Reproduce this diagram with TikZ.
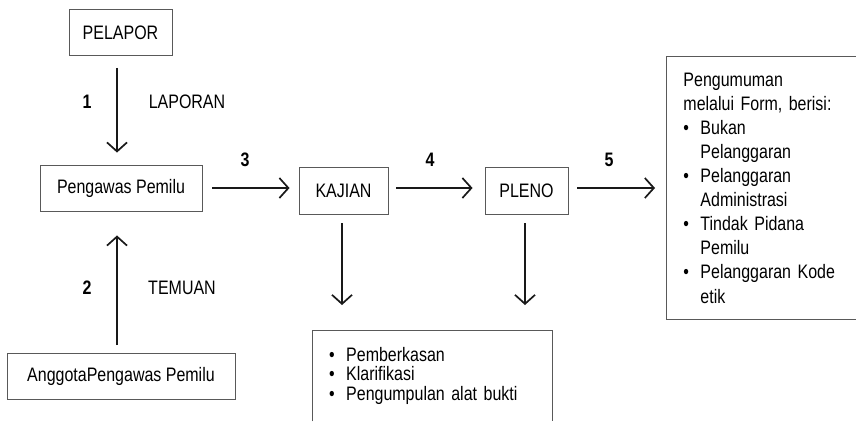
\documentclass[tikz,border=0pt]{standalone}
\usepackage{fontspec}
\setmainfont{Liberation Sans}[FakeStretch=0.82]
\usetikzlibrary{arrows.meta}
\newcommand{\bul}{\makebox[17pt][l]{\textbullet}}
\newcommand{\ind}{\hspace*{17pt}}
\begin{document}
\begin{tikzpicture}[x=1pt,y=-1pt,
  txt/.style={font=\fontsize{19.5}{22}\selectfont},
  box/.style={txt, draw=black!65, line width=0.9pt, inner sep=0pt, minimum height=46pt},
  flow/.style={draw=black!90, line width=1.7pt, -{Straight Barb[length=9pt,width=20pt,line width=1.7pt]}},
  num/.style={font=\fontsize{19.5}{22}\selectfont\bfseries},
  lbl/.style={txt}]
\useasboundingbox (0,0) rectangle (856,421);

% boxes
\node[box, minimum width=103pt] (pelapor) at (120.5,32.5) {PELAPOR};
\node[box, minimum width=162pt] (pengawas) at (121,188) {Pengawas Pemilu};
\node[box, minimum width=228pt] (anggota) at (121,376.5) {AnggotaPengawas Pemilu};
\node[box, minimum width=89pt, minimum height=47pt] (kajian) at (343.5,190.5) {KAJIAN};
\node[box, minimum width=83pt, minimum height=47pt] (pleno) at (526.5,190.5) {PLENO};

% announcement box (right side runs past the page edge)
\node[txt, draw=black!65, line width=0.9pt, anchor=north west,
      minimum width=204pt, minimum height=263pt, text width=170pt,
      inner xsep=17pt, inner ysep=0pt, align=left,
      font=\fontsize{19.5}{24.1}\selectfont] (hasil) at (666,56)
  {Pengumuman\\
   melalui Form, berisi:\\
   \bul Bukan\\
   \ind Pelanggaran\\
   \bul Pelanggaran\\
   \ind Administrasi\\
   \bul Tindak Pidana\\
   \ind Pemilu\\
   \bul Pelanggaran Kode\\
   \ind etik};

% investigation box (open at the bottom)
\node[txt, anchor=north west, minimum width=240pt, minimum height=91pt,
      text width=206pt, inner xsep=17pt, inner ysep=0pt, align=left,
      font=\fontsize{19.5}{19.6}\selectfont] (bukti) at (312,330)
  {\bul Pemberkasan\\
   \bul Klarifikasi\\
   \bul Pengumpulan alat bukti};
\draw[draw=black!65, line width=0.9pt] (bukti.south west) |- (bukti.north east) -- (bukti.south east);

% connectors
\draw[flow, shorten <=12pt, shorten >=12pt] ([xshift=-3.5pt]pelapor.south) -- ([xshift=-4pt]pengawas.north);
\draw[flow, shorten <=8pt, shorten >=24pt] ([xshift=-4pt]anggota.north) -- ([xshift=-4pt]pengawas.south);
\draw[flow, shorten <=10pt, shorten >=9pt] (pengawas.east) -- (kajian.west |- pengawas.east);
\draw[flow, shorten <=8pt, shorten >=12pt] (kajian.east |- pengawas.east) -- (pleno.west |- pengawas.east);
\draw[flow, shorten <=9pt, shorten >=11pt] (pleno.east |- pengawas.east) -- (hasil.west |- pengawas.east);
\draw[flow, shorten <=9pt, shorten >=25pt] ([xshift=-1.5pt]kajian.south) -- ([xshift=-1.5pt]kajian.south |- bukti.north);
\draw[flow, shorten <=9pt, shorten >=25pt] ([xshift=-1.5pt]pleno.south) -- ([xshift=-1.5pt]pleno.south |- bukti.north);

% labels
\node[num] (n1) at (87,102) {1};
\node[lbl] (laporan) at (187,102) {LAPORAN};
\node[num] (n2) at (87,288) {2};
\node[lbl] (temuan) at (182,288) {TEMUAN};
\node[num] (n3) at (245,160) {3};
\node[num] (n4) at (430,160) {4};
\node[num] (n5) at (609,160) {5};
\end{tikzpicture}
\end{document}
